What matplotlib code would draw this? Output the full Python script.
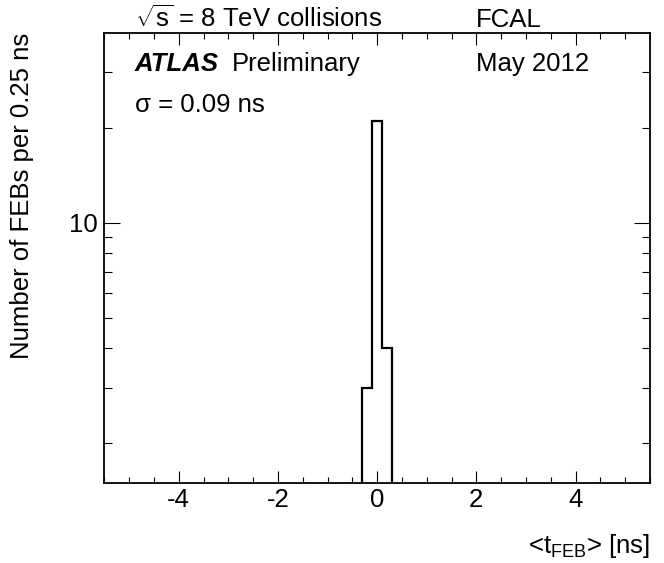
import matplotlib
matplotlib.use("Agg")
import matplotlib.pyplot as plt
from matplotlib.ticker import FixedLocator, MultipleLocator, NullFormatter, FixedFormatter

plt.rcParams["font.family"] = ["Liberation Sans", "DejaVu Sans"]
plt.rcParams["mathtext.fontset"] = "custom"
plt.rcParams["mathtext.rm"] = "Liberation Sans"
plt.rcParams["mathtext.it"] = "Liberation Sans:italic"

# FEB time histogram for FCAL
bin_edges = [-0.3, -0.1, 0.1, 0.3]
feb_counts = [3, 21, 4]

x_range = (-5.5, 5.5)
y_range = (1.5, 40)
y_major = [10]
y_minor = [2, 3, 4, 5, 6, 7, 8, 9, 20, 30]

W, H = 664, 563
FS = 18.5


def fxy(x, y):
    # pixel position (from top-left) to figure fraction
    return x / W, 1 - y / H


fig = plt.figure(figsize=(W / 100, H / 100), dpi=100)
left, top, right, bottom = 104.3, 32.7, 650, 482.7
ax = fig.add_axes([left / W, 1 - bottom / H, (right - left) / W, (bottom - top) / H])

ax.stairs(feb_counts, bin_edges, baseline=y_range[0], color="black", linewidth=1.6)

ax.set_yscale("log")
ax.set_xlim(*x_range)
ax.set_ylim(*y_range)

ax.xaxis.set_major_locator(MultipleLocator(2))
ax.xaxis.set_minor_locator(MultipleLocator(0.5))
ax.yaxis.set_major_locator(FixedLocator(y_major))
ax.yaxis.set_major_formatter(FixedFormatter([str(v) for v in y_major]))
ax.yaxis.set_minor_locator(FixedLocator(y_minor))
ax.yaxis.set_minor_formatter(NullFormatter())

ax.tick_params(axis="both", which="both", direction="in", top=True, right=True,
               labelsize=FS, width=0.8, color="black")
ax.tick_params(axis="x", which="major", length=8.6, pad=4)
ax.tick_params(axis="x", which="minor", length=4.3)
ax.tick_params(axis="y", which="major", length=11.5, pad=4.5)
ax.tick_params(axis="y", which="minor", length=5.8)
for s in ax.spines.values():
    s.set_linewidth(1.3)

ax.set_xticklabels([])
ax.xaxis.set_major_formatter(matplotlib.ticker.FuncFormatter(lambda v, p: "%d" % v))

# annotations
fig.text(*fxy(135, 27), r"$\sqrt{\mathrm{s}}$ = 8 TeV collisions", fontsize=FS, va="baseline")
fig.text(*fxy(476, 27), "FCAL", fontsize=FS, va="baseline")
fig.text(*fxy(135, 71), "ATLAS", fontsize=FS, va="baseline", fontweight="bold", fontstyle="italic")
fig.text(*fxy(232, 71), "Preliminary", fontsize=FS, va="baseline")
fig.text(*fxy(476, 71), "May 2012", fontsize=FS, va="baseline")
fig.text(*fxy(135, 112), "σ = 0.09 ns", fontsize=FS, va="baseline")

fig.text(*fxy(650, 553), r"<t$_{\mathrm{FEB}}$> [ns]", fontsize=FS, va="baseline", ha="right")
fig.text(*fxy(22, 33), "Number of FEBs per 0.25 ns", fontsize=FS, rotation=90,
         ha="center", va="top")

fig.savefig("out.png", dpi=100)
